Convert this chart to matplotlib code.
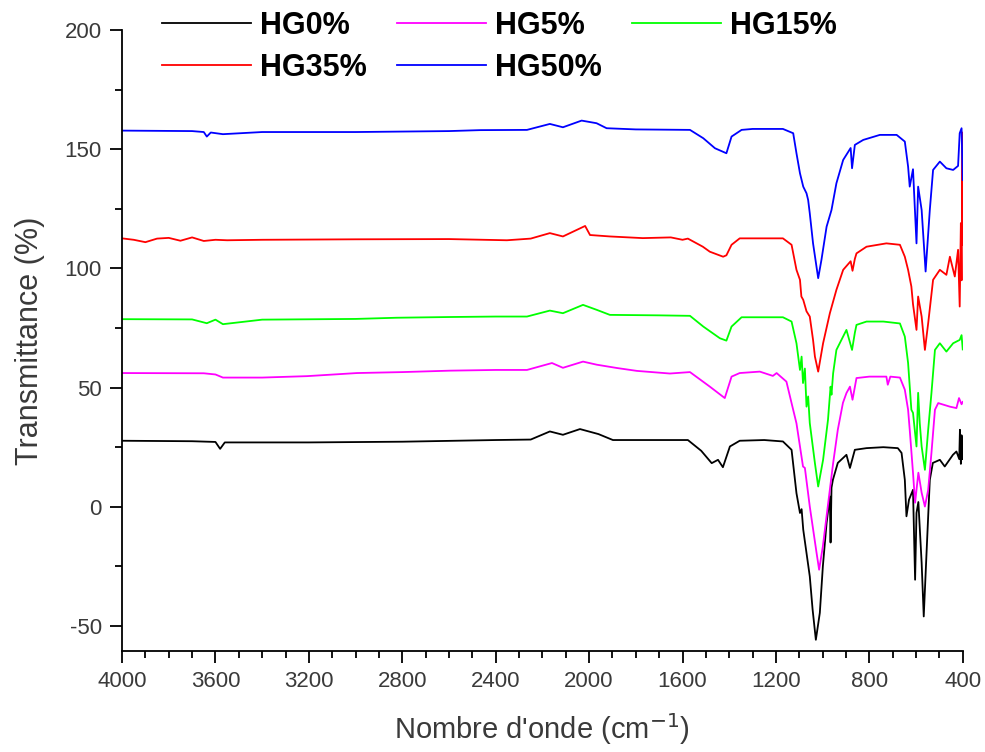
import numpy as np
import matplotlib.pyplot as plt
from matplotlib.ticker import MultipleLocator

plt.rcParams['font.family'] = ['Liberation Sans', 'DejaVu Sans']
plt.rcParams['axes.unicode_minus'] = False

# spectres (nombre d'onde en cm-1, transmittance en %)
wn_hg0 = [4000, 3700, 3600, 3580, 3560, 3200, 2800, 2400, 2250, 2168, 2112, 2039, 1960, 1898,
          1700, 1577, 1520, 1475, 1448, 1427, 1397, 1355, 1250, 1170, 1133, 1112, 1097, 1090,
          1083, 1069, 1055, 1043, 1029, 1012, 999, 983, 969, 966, 962, 956, 935, 898, 883, 862,
          812, 740, 678, 662, 648, 641, 630, 613, 604, 598, 590, 576, 567, 555, 541, 528, 498,
          477, 442, 427, 415, 412, 408, 405, 400]
t_hg0 = [27.7, 27.5, 27.2, 24.3, 27.0, 27.0, 27.3, 28.0, 28.2, 31.6, 30.2, 32.6, 30.5, 28.0,
         28.0, 28.0, 23.5, 18.3, 19.7, 16.6, 25.3, 27.7, 28.0, 27.4, 23.9, 5.7, -2.6, -1.0,
         -9.6, -19.4, -29.2, -43.0, -55.8, -44.5, -25.0, -6.8, 4.3, -15.0, 8.0, 11.3, 18.4,
         21.8, 16.3, 23.9, 24.6, 25.0, 24.6, 22.6, 11.3, -4.0, 3.0, 7.1, -30.6, -2.6, 2.0,
         -23.5, -46.0, -19.3, 11.3, 18.4, 19.7, 16.9, 21.8, 23.2, 20.0, 32.3, 18.0, 30.0, 20.0]

wn_hg5 = [4000, 3650, 3600, 3568, 3400, 3208, 2994, 2800, 2596, 2400, 2266, 2159, 2112, 2026,
          1967, 1880, 1795, 1654, 1568, 1483, 1419, 1390, 1355, 1269, 1213, 1197, 1155, 1133,
          1112, 1097, 1084, 1076, 1055, 1026, 1015, 999, 978, 955, 935, 913, 898, 883, 872, 855,
          800, 727, 721, 710, 669, 648, 634, 627, 613, 604, 590, 576, 562, 548, 534, 519, 505,
          455, 427, 416, 405, 400]
t_hg5 = [56.1, 56.0, 55.5, 54.2, 54.2, 54.8, 56.1, 56.5, 57.1, 57.4, 57.4, 60.3, 58.3, 60.9,
         59.6, 58.2, 57.0, 55.9, 56.5, 50.4, 45.6, 54.6, 56.1, 56.7, 54.9, 56.1, 52.5, 43.5,
         35.0, 25.3, 16.9, 16.3, 0.1, -19.3, -26.4, -16.6, 0.1, 18.3, 32.3, 43.6, 47.7, 50.4,
         44.9, 54.0, 54.6, 54.6, 51.2, 54.6, 54.2, 49.1, 40.7, 32.3, 14.3, 1.7, 14.3, 5.9, 0.1,
         7.1, 22.6, 40.7, 43.5, 42.0, 41.4, 45.6, 43.0, 44.0]

wn_hg15 = [4000, 3700, 3637, 3600, 3568, 3400, 3000, 2824, 2600, 2400, 2266, 2168, 2112, 2026,
           1967, 1911, 1700, 1568, 1511, 1440, 1412, 1390, 1347, 1250, 1170, 1133, 1112, 1097,
           1090, 1084, 1076, 1069, 1062, 1055, 1033, 1019, 998, 977, 966, 962, 955, 941, 898,
           874, 862, 855, 812, 740, 669, 648, 634, 620, 613, 598, 591, 584, 576, 562, 548, 534,
           519, 498, 470, 441, 413, 405, 400]
t_hg15 = [78.7, 78.6, 77.0, 78.5, 76.6, 78.5, 78.8, 79.3, 79.6, 79.8, 79.8, 82.3, 81.2, 84.7,
          82.6, 80.5, 80.3, 80.1, 75.6, 70.7, 69.7, 75.6, 79.5, 79.5, 79.5, 77.7, 68.6, 57.4,
          63.0, 51.9, 58.0, 42.0, 46.3, 35.1, 18.3, 8.5, 19.7, 36.5, 50.4, 47.0, 56.0, 65.8,
          74.2, 65.8, 73.0, 76.3, 77.7, 77.7, 76.9, 71.4, 60.3, 40.7, 39.4, 25.3, 47.8, 35.0,
          25.3, 15.5, 32.3, 47.7, 65.8, 68.6, 65.1, 68.6, 70.0, 72.0, 66.0]

wn_hg35 = [4000, 3950, 3900, 3850, 3800, 3750, 3700, 3650, 3600, 3550, 3400, 3000, 2600, 2352,
           2250, 2168, 2112, 2017, 1996, 1911, 1770, 1650, 1600, 1577, 1513, 1483, 1426, 1412,
           1390, 1355, 1250, 1170, 1133, 1112, 1097, 1091, 1083, 1069, 1055, 1041, 1033, 1019,
           998, 969, 941, 912, 880, 872, 862, 855, 812, 727, 669, 648, 634, 620, 613, 598, 591,
           576, 562, 548, 527, 498, 470, 455, 434, 420, 413, 408, 405, 401, 400]
t_hg35 = [112.6, 112.0, 111.0, 112.5, 112.8, 111.6, 113.0, 111.5, 112.0, 111.8, 112.0, 112.2,
          112.3, 111.8, 112.5, 114.8, 113.4, 117.8, 114.0, 113.4, 112.7, 113.0, 112.0, 112.5,
          109.1, 107.0, 104.9, 105.5, 109.9, 112.6, 112.6, 112.6, 109.9, 99.4, 95.2, 88.2,
          86.8, 82.0, 79.8, 70.0, 63.0, 56.7, 68.6, 81.2, 91.0, 99.4, 103.0, 99.0, 104.0,
          106.3, 109.1, 110.5, 109.9, 104.9, 99.4, 92.4, 85.0, 74.2, 88.2, 79.8, 65.8, 77.0,
          95.2, 99.4, 97.3, 104.9, 96.6, 107.8, 84.0, 119.0, 95.0, 157.0, 110.0]

wn_hg50 = [4000, 3700, 3650, 3637, 3620, 3568, 3400, 3000, 2600, 2467, 2266, 2168, 2112, 2032,
           1968, 1925, 1800, 1568, 1511, 1461, 1412, 1390, 1347, 1300, 1170, 1126, 1112, 1097,
           1083, 1069, 1062, 1055, 1041, 1019, 1005, 983, 962, 941, 912, 880, 874, 862, 826,
           755, 683, 648, 634, 627, 613, 598, 591, 576, 559, 541, 527, 498, 470, 441, 420, 413,
           405, 400]
t_hg50 = [157.8, 157.6, 157.2, 155.3, 157.0, 156.3, 157.2, 157.2, 157.6, 158.0, 158.1, 160.6,
          159.2, 162.0, 160.9, 158.8, 158.3, 158.1, 154.6, 150.4, 148.3, 155.3, 158.1, 158.5,
          158.5, 156.7, 148.3, 139.9, 134.3, 131.5, 128.7, 123.1, 110.5, 95.9, 103.6, 117.5,
          124.5, 135.7, 145.5, 150.5, 142.0, 151.8, 153.9, 156.0, 156.0, 153.2, 142.7, 134.3,
          141.6, 110.5, 134.3, 124.5, 98.7, 124.5, 141.3, 144.8, 142.0, 141.3, 143.0, 156.7,
          158.8, 137.1]

labels = ['HG0%', 'HG5%', 'HG15%', 'HG35%', 'HG50%']
colors = ['#000000', '#ff00ff', '#00ff00', '#ff0000', '#0000ff']
series = [(wn_hg0, t_hg0), (wn_hg5, t_hg5), (wn_hg15, t_hg15), (wn_hg35, t_hg35), (wn_hg50, t_hg50)]

fig = plt.figure(figsize=(9.85, 7.52), dpi=100)
ax = fig.add_axes([0.1239, 0.1343, 0.8535, 0.8258])

handles = []
for (wn, t), lab, c in zip(series, labels, colors):
    h, = ax.plot(wn, t, color=c, lw=1.3, label=lab)
    handles.append(h)

ax.set_xlim(4000, 400)
ax.set_ylim(-60.5, 200)
ax.xaxis.set_major_locator(MultipleLocator(400))
ax.xaxis.set_minor_locator(MultipleLocator(100))
ax.yaxis.set_major_locator(MultipleLocator(50))
ax.yaxis.set_minor_locator(MultipleLocator(25))

for s in ['top', 'right']:
    ax.spines[s].set_visible(False)
for s in ['left', 'bottom']:
    ax.spines[s].set_linewidth(1.3)

txt = '#3a3a3a'
ax.tick_params(which='major', direction='out', length=8.5, width=1.3, labelsize=16,
               labelcolor=txt, pad=6)
ax.tick_params(which='minor', direction='out', length=5, width=1.3)

ax.set_xlabel("Nombre d'onde (cm$^{-1}$)", fontsize=21, color=txt, labelpad=14)
ax.set_ylabel('Transmittance (%)', fontsize=22, color=txt, labelpad=14)

# legende sur deux lignes, remplie ligne par ligne
order = [0, 3, 1, 4, 2]
fig.legend([handles[i] for i in order], [labels[i] for i in order], ncol=3,
           loc='upper left', bbox_to_anchor=(162 / 985, 0.986), frameon=False,
           prop={'weight': 'bold', 'size': 22}, handlelength=2.9, handletextpad=0.3,
           columnspacing=1.0, labelspacing=0.4, borderpad=0, borderaxespad=0)

fig.savefig('out.png', dpi=100)
